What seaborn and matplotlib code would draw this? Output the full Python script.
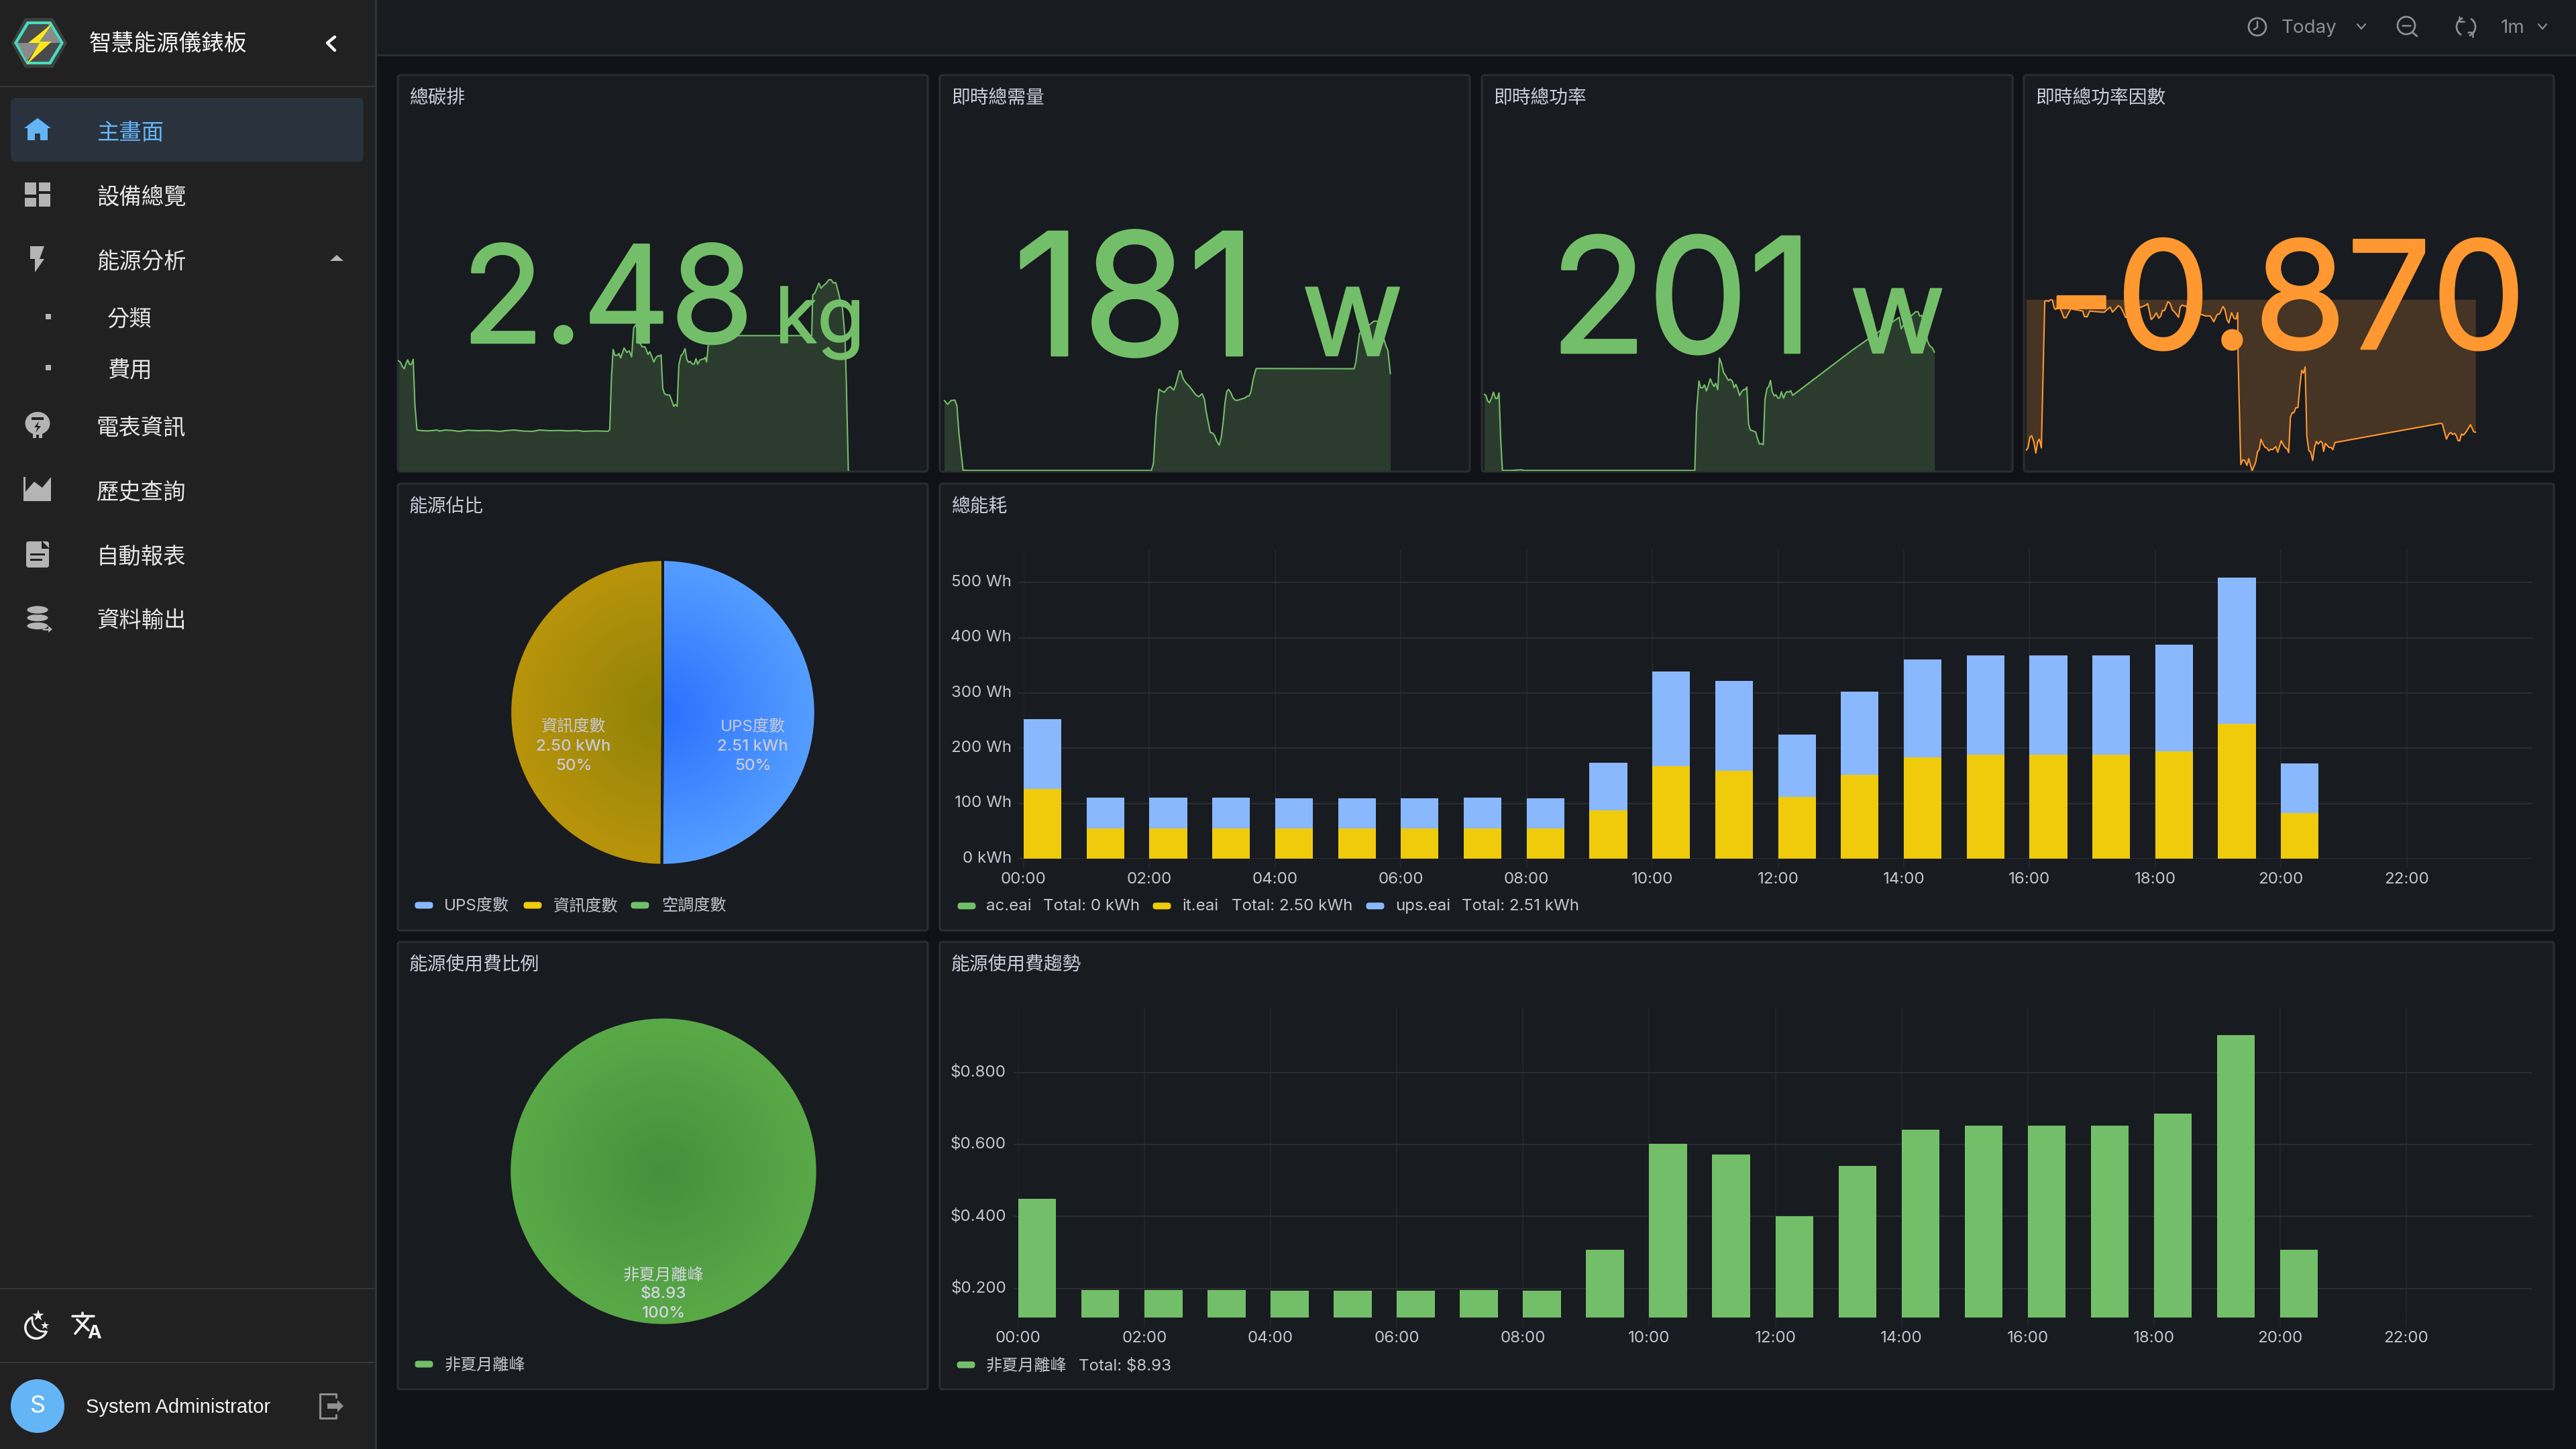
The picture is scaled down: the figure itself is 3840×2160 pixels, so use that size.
"""Smart energy dashboard screenshot rebuilt with seaborn."""
import matplotlib

matplotlib.use("Agg")

import matplotlib.patheffects as pe
import matplotlib.pyplot as plt
import numpy as np
import seaborn as sns
from matplotlib.patches import Arc, Circle, Ellipse, FancyBboxPatch, Polygon, Rectangle
from matplotlib.transforms import ScaledTranslation

# sparklines: sample position and height
CARBON_T = [8, 14, 20, 25, 30, 35, 40, 45, 51, 56, 62, 70, 90, 105, 120, 128, 145, 165, 185, 210, 240, 270, 305, 320,
            345, 375, 400, 420, 450, 480, 505, 530, 550, 585, 620, 625, 630, 635, 640, 648, 652, 657, 667, 675, 682,
            689, 695, 702, 715, 720, 728, 737, 742, 747, 754, 760, 766, 770, 775, 780, 785, 792, 800, 806, 812, 817,
            822, 827, 833, 838, 845, 850, 855, 860, 866, 872, 877, 882, 888, 895, 900, 904, 908, 913, 918, 1000, 1215,
            1218, 1224, 1230, 1236, 1242, 1250, 1258, 1265, 1272, 1278, 1285, 1292, 1298, 1305, 1312, 1316, 1322]
CARBON_V = [493, 485, 465, 457, 480, 497, 477, 475, 499, 295, 183, 181, 179, 180, 183, 178, 183, 181, 177, 182, 180, 181,
            177, 180, 183, 178, 177, 183, 180, 181, 179, 181, 177, 179, 177, 185, 415, 543, 517, 517, 525, 505, 550, 530,
            537, 510, 640, 655, 567, 555, 555, 521, 533, 515, 487, 507, 515, 513, 519, 370, 345, 340, 339, 315, 289, 297,
            289, 475, 515, 522, 547, 500, 485, 490, 478, 478, 502, 477, 495, 500, 500, 508, 487, 565, 605, 605, 605, 787,
            795, 817, 840, 817, 830, 840, 855, 855, 840, 843, 805, 765, 725, 605, 405, 0]

DEMAND_T = [15, 25, 35, 46, 52, 58, 70, 90, 620, 626, 634, 642, 650, 658, 667, 675, 685, 690, 698, 702, 706, 712, 720,
            730, 740, 750, 758, 768, 775, 780, 787, 792, 798, 804, 812, 818, 824, 830, 835, 840, 845, 852, 858, 865, 872,
            880, 888, 895, 900, 905, 910, 918, 926, 1212, 1217, 1222, 1228, 1235, 1250, 1262, 1270, 1278, 1285, 1292,
            1298, 1305, 1311, 1318]
DEMAND_V = [315, 298, 315, 317, 290, 165, 3, 2, 2, 35, 245, 365, 357, 352, 370, 377, 362, 380, 425, 447, 447, 415, 395,
            380, 360, 340, 332, 345, 320, 265, 210, 172, 170, 160, 130, 115, 150, 225, 305, 355, 365, 350, 327, 316, 316,
            320, 324, 328, 335, 335, 350, 415, 458, 457, 485, 545, 615, 625, 645, 660, 670, 670, 665, 635, 595, 560, 537,
            435]

POWER_T = [25, 30, 35, 40, 46, 52, 58, 63, 68, 73, 78, 100, 135, 140, 300, 640, 645, 652, 657, 663, 668, 674, 680, 685,
           692, 696, 701, 707, 712, 718, 724, 730, 738, 744, 750, 755, 760, 765, 771, 777, 783, 788, 792, 797, 802, 808,
           818, 823, 829, 835, 840, 845, 851, 856, 861, 866, 872, 877, 883, 888, 893, 899, 905, 910, 915, 920, 926, 1100,
           1175, 1212, 1237, 1243, 1255, 1270, 1285, 1292, 1297, 1303, 1312, 1320, 1326, 1334, 1340]
POWER_V = [343, 337, 313, 305, 325, 352, 324, 324, 349, 145, 2, 2, 5, 2, 2, 2, 265, 402, 372, 372, 385, 358, 385, 412,
           388, 378, 392, 363, 505, 480, 440, 427, 405, 410, 400, 372, 387, 368, 337, 355, 364, 364, 375, 210, 183, 180,
           174, 145, 120, 122, 117, 320, 370, 377, 405, 355, 335, 341, 325, 327, 354, 325, 348, 355, 352, 359, 338, 540,
           620, 660, 687, 635, 670, 690, 712, 712, 693, 695, 635, 580, 560, 550, 531]

PF_T = [40, 45, 51, 56, 62, 68, 73, 78, 84, 94, 100, 105, 110, 116, 122, 126, 132, 137, 142, 150, 156, 163, 170, 205,
        210, 218, 225, 262, 268, 275, 285, 292, 300, 309, 315, 322, 330, 336, 345, 388, 395, 405, 412, 420, 427, 433,
        438, 444, 454, 460, 467, 475, 485, 490, 496, 502, 508, 514, 520, 565, 578, 588, 598, 605, 615, 620, 627, 632,
        640, 647, 653, 658, 659, 667, 673, 678, 685, 690, 700, 710, 716, 721, 726, 732, 738, 743, 749, 754, 760, 769,
        775, 785, 792, 798, 802, 807, 812, 817, 822, 828, 834, 840, 845, 850, 855, 860, 866, 871, 877, 883, 888, 893,
        900, 905, 909, 914, 920, 925, 931, 936, 942, 1252, 1256, 1268, 1275, 1281, 1286, 1292, 1297, 1302, 1307, 1312,
        1318, 1328, 1338, 1348, 1353]
PF_V = [93, 103, 153, 157, 130, 80, 130, 142, 103, 760, 761, 758, 765, 765, 727, 722, 735, 735, 717, 685, 685, 705, 725,
        715, 690, 689, 715, 710, 710, 720, 733, 710, 723, 739, 733, 715, 687, 687, 715, 740, 748, 677, 687, 707, 683,
        692, 718, 717, 757, 750, 720, 708, 687, 733, 742, 737, 737, 707, 715, 693, 693, 667, 700, 702, 735, 723, 675,
        662, 708, 683, 679, 708, 505, 28, 50, 47, 25, 55, 0, 37, 87, 95, 142, 120, 105, 103, 90, 97, 95, 109, 83, 135,
        115, 102, 100, 82, 240, 260, 260, 283, 283, 385, 450, 437, 465, 155, 90, 85, 47, 110, 132, 120, 133, 127, 87,
        123, 113, 105, 105, 95, 127, 213, 210, 142, 165, 172, 163, 168, 157, 135, 135, 165, 160, 180, 207, 175, 173]

# hourly bars
HOURS = list(range(21))
IT_WH = [126, 55, 55, 55, 55, 55, 55, 55, 55, 87, 168, 159, 112, 152, 184, 188, 188, 188, 194, 244, 82]
UPS_WH = [127, 55, 55, 55, 54, 54, 54, 55, 54, 87, 171, 163, 113, 151, 177, 180, 180, 180, 193, 265, 91]
COST = [0.45, 0.195, 0.195, 0.195, 0.194, 0.194, 0.194, 0.195, 0.194, 0.308, 0.602, 0.572, 0.40, 0.54, 0.642, 0.652,
        0.652, 0.652, 0.687, 0.905, 0.307]
TIME_TICKS = list(range(0, 24, 2))
TIME_LABELS = [f"{h:02d}:00" for h in TIME_TICKS]
WH_TICKS = [0, 100, 200, 300, 400, 500]
WH_LABELS = ["0 kWh", "100 Wh", "200 Wh", "300 Wh", "400 Wh", "500 Wh"]
COST_TICKS = [0.2, 0.4, 0.6, 0.8]
COST_LABELS = ["$0.200", "$0.400", "$0.600", "$0.800"]

# pies
ENERGY_SHARE = [2.51, 2.50, 0]
COST_SHARE = [8.93]

MENU_ITEMS = ["設備總覽", "能源分析", "電表資訊", "歷史查詢", "自動報表", "資料輸出"]
MENU_Y = [295, 391, 639, 735, 831, 926]

PAGE = "#111217"
PANEL = "#181b1f"
SIDE = "#212121"
BORDER = "#2a2d32"
TEXT = "#ccccdc"
AXIS_TEXT = "#c4c5d0"
GREEN = "#73bf69"
GREEN_FILL = "#2b3c2e"
ORANGE = "#ff9830"
ORANGE_FILL = "#463424"
YELLOW = "#efcb0c"
BLUE = "#8ab8ff"
GRID_H = "#2b2e33"
GRID_V = "#23262b"
ICON = "#b4b4b4"
MUTED = "#8e8e98"

sns.set_theme(style="dark", rc={"axes.facecolor": PANEL, "figure.facecolor": PAGE, "savefig.facecolor": PAGE})
plt.rcParams["font.family"] = ["Inter", "Noto Sans CJK TC", "DejaVu Sans"]

W, H = 3840, 2160
fig = plt.figure(figsize=(W / 200, H / 200), dpi=200)


def layer(z):
    ax = fig.add_axes([0, 0, 1, 1], zorder=z)
    ax.set_xlim(0, W)
    ax.set_ylim(H, 0)
    ax.axis("off")
    ax.patch.set_alpha(0)
    return ax


def chart_axes(x0, y0, x1, y1):
    ax = fig.add_axes([x0 / W, 1 - y1 / H, (x1 - x0) / W, (y1 - y0) / H], zorder=1)
    ax.patch.set_alpha(0)
    return ax


back = layer(0)
front = layer(2)


def rect(ax, x0, y0, x1, y1, color):
    ax.add_patch(Rectangle((x0, y0), x1 - x0, y1 - y0, fc=color, ec="none"))


def panel(x0, y0, x1, y1, title):
    back.add_patch(FancyBboxPatch((x0 + 3, y0 + 3), x1 - x0 - 6, y1 - y0 - 6, boxstyle="round,pad=3,rounding_size=4",
                                  fc=PANEL, ec=BORDER, lw=1.1))
    front.text(x0 + 17, y0 + 35, title, color=TEXT, fontsize=10, va="center")


def poly(points, color, z=3):
    front.add_patch(Polygon(points, closed=True, fc=color, ec="none", zorder=z))


def stroke(points, color, lw=1.2):
    xs, ys = zip(*points)
    front.plot(xs, ys, color=color, lw=lw, solid_capstyle="round", solid_joinstyle="round")


def big_text(x, y, s, color, size, thicken=1.0, ha="left"):
    front.text(x, y, s, color=color, fontsize=size, ha=ha, va="baseline",
               path_effects=[pe.withStroke(linewidth=thicken, foreground=color)])


def sparkline(rect_px, xlim, t, v, color, fill, fill_to=0):
    ax = chart_axes(*rect_px)
    ax.fill_between(t, v, fill_to, color=fill, lw=0)
    sns.lineplot(x=t, y=v, estimator=None, sort=False, color=color, lw=0.75, ax=ax)
    ax.set_xlim(*xlim)
    ax.set_ylim(0, (rect_px[3] - rect_px[1]) * 3)
    ax.set_axis_off()


def legend_mark(x, y, color):
    front.add_patch(FancyBboxPatch((x + 5, y), 18, 1, boxstyle="round,pad=4.5,rounding_size=4.5", fc=color, ec="none"))


def legend_text(x, y, s):
    front.text(x, y, s, color=AXIS_TEXT, fontsize=8.7, va="center")


def pie(cx, cy, r, values, gradients):
    ax = chart_axes(cx - r, cy - r, cx + r, cy + r)
    lw = 1.4 if len(values) > 1 else 0
    wedges, _ = ax.pie(values, startangle=90, counterclock=False, radius=1,
                       wedgeprops=dict(edgecolor=PANEL, linewidth=lw))
    yy, xx = np.mgrid[-1:1:400j, -1:1:400j]
    dist = np.clip(np.hypot(xx, yy), 0, 1)[..., None]
    for wedge, (inner, outer) in zip(wedges, gradients):
        c0 = np.array(matplotlib.colors.to_rgb(inner))
        c1 = np.array(matplotlib.colors.to_rgb(outer))
        img = ax.imshow(c0 + (c1 - c0) * dist, extent=(-1, 1, -1, 1), zorder=0.5)
        img.set_clip_path(wedge)
        wedge.set_facecolor("none")
        wedge.set_zorder(2)
    ax.set_xlim(-1.01, 1.01)
    ax.set_ylim(-1.01, 1.01)
    ax.set_aspect("equal")
    ax.set_axis_off()


def style_bars(ax, yticks, ylabels):
    ax.set_xlim(0, 24)
    ax.set_xticks(TIME_TICKS, TIME_LABELS)
    ax.set_yticks(yticks, ylabels)
    ax.set_xlabel("")
    ax.set_ylabel("")
    ax.grid(True, axis="y", color=GRID_H, lw=0.7)
    ax.grid(True, axis="x", color=GRID_V, lw=0.7)
    ax.set_axisbelow(True)
    ax.tick_params(axis="x", length=5, width=0.6, color=GRID_V, pad=2.2, labelsize=8.7, labelcolor=AXIS_TEXT, bottom=True)
    ax.tick_params(axis="y", length=3, width=0.6, color=GRID_H, pad=3.5, labelsize=8.7, labelcolor=AXIS_TEXT, left=True)
    sns.despine(ax=ax, left=True, bottom=True)
    # the y labels sit a little above their grid lines
    nudge = ScaledTranslation(0, 3 / 200, fig.dpi_scale_trans)
    for lab in ax.get_yticklabels():
        lab.set_transform(lab.get_transform() + nudge)


# page chrome
rect(back, 0, 0, W, H, PAGE)
rect(back, 0, 0, 559, H, SIDE)
rect(back, 559, 0, 562, H, "#333436")
rect(back, 562, 0, W, 81, PANEL)
rect(back, 562, 81, W, 84, BORDER)
rect(back, 0, 128, 559, 130, "#363636")
rect(back, 0, 1920, 559, 1922, "#363636")
rect(back, 0, 2030, 559, 2032, "#363636")
back.add_patch(FancyBboxPatch((22, 152), 514, 83, boxstyle="round,pad=6,rounding_size=8", fc="#29323d", ec="none"))

# logo
poly([(17, 64), (37, 27), (79, 27), (100, 64), (79, 101), (37, 101)], "#3d403e")
poly([(21, 64), (40, 32), (76, 32), (95, 64), (76, 96), (40, 96)], "#45dcc0")
poly([(26, 64), (43, 36), (73, 36), (90, 64), (73, 92), (43, 92)], "#4a4a4a")
poly([(26, 64), (60, 64), (40, 92)], "#8a8a8a", 3.1)
poly([(73, 36), (90, 64), (58, 64)], "#8a8a8a", 3.1)
poly([(78, 35), (42, 64), (59, 64), (40, 96), (77, 62), (59, 62)], "#ffe81a", 3.2)

front.text(133, 66, "智慧能源儀錶板", color="#f5f5f5", fontsize=12.1, weight="medium", va="center")
stroke([(499, 55), (488, 64), (499, 75)], "#f5f5f5", 1.6)

# menu
front.text(144, 199, "主畫面", color="#64b5f6", fontsize=12, va="center")
for label, y in zip(MENU_ITEMS, MENU_Y):
    front.text(144, y, label, color="#e6e6e6", fontsize=12, va="center")
front.text(160, 477, "分類", color="#e6e6e6", fontsize=12, va="center")
front.text(160, 553, "費用", color="#e6e6e6", fontsize=12, va="center")

poly([(36, 191), (56, 176), (76, 191), (71, 191), (71, 209), (60, 209), (60, 199), (52, 199), (52, 209), (41, 209),
      (41, 191)], "#64b5f6")
for x0, y0, x1, y1 in [(37, 272, 54, 290), (37, 295, 54, 308), (58, 272, 75, 285), (58, 289, 75, 308)]:
    rect(front, x0, y0, x1, y1, ICON)
poly([(45, 367), (66, 367), (59, 386), (66, 386), (52, 406), (52, 386), (45, 386)], ICON)
poly([(492, 389), (502, 380), (512, 389)], ICON)
rect(front, 68, 468, 76, 476, ICON)
rect(front, 68, 544, 76, 552, ICON)
# meter
front.add_patch(Ellipse((56, 631), 37, 34, fc=ICON, ec="none"))
rect(front, 49, 645, 54, 653, ICON)
rect(front, 58, 645, 63, 653, ICON)
rect(front, 47, 622, 65, 626, SIDE)
poly([(58, 628), (51, 637), (56, 637), (53, 645), (61, 635), (56, 635)], SIDE, 3.5)
# history
poly([(35, 711), (38, 711), (38, 733), (51, 718), (63, 727), (76, 711), (76, 747), (35, 747)], ICON)
stroke([(42, 743), (52, 727), (63, 735), (76, 720)], SIDE, 1.3)
# report
front.add_patch(FancyBboxPatch((42, 810), 28, 33, boxstyle="round,pad=3,rounding_size=4", fc=ICON, ec="none"))
poly([(62, 806), (74, 818), (62, 818)], SIDE)
rect(front, 45, 825, 67, 828, SIDE)
rect(front, 45, 833, 63, 836, SIDE)
# export
for y in (933, 921):
    front.add_patch(Ellipse((56, y), 33, 12, fc=ICON, ec=SIDE, lw=0.6))
front.add_patch(Ellipse((56, 909), 33, 13, fc=ICON, ec=SIDE, lw=0.6))
stroke([(64, 938), (74, 938)], ICON, 0.9)
poly([(72, 933), (78, 938), (72, 943)], ICON)

# bottom of the sidebar
front.add_patch(Circle((54, 1979), 18, fc="#f0f0f0", ec="none", zorder=3))
front.add_patch(Circle((54, 1979), 14.5, fc=SIDE, ec="none", zorder=3.05))
front.add_patch(Circle((65, 1968), 17, fc=SIDE, ec="none", zorder=3.1))
front.add_patch(Arc((65, 1968), 34, 34, theta1=75, theta2=195, ec="#f0f0f0", lw=1, zorder=3.2))
front.scatter([57, 67], [1961, 1976], marker="*", s=[42, 22], color="#f0f0f0", lw=0, zorder=3.3)
stroke([(108, 1962), (140, 1962)], "#f0f0f0", 1.3)
stroke([(123, 1957), (123, 1962)], "#f0f0f0", 1.3)
stroke([(115, 1967), (132, 1983)], "#f0f0f0", 1.3)
stroke([(131, 1965), (112, 1988)], "#f0f0f0", 1.3)
front.text(141, 1995, "A", color="#f0f0f0", fontsize=10, weight="bold", ha="center", va="baseline")
front.add_patch(Ellipse((56, 2096), 80, 80, fc="#64b5f6", ec="none", zorder=3))
front.text(56, 2097, "S", color="white", fontsize=13, ha="center", va="center", zorder=4)
front.text(128, 2098, "System Administrator", color="#f5f5f5", fontsize=10.5, family="Liberation Sans", va="center")
stroke([(501, 2083), (501, 2078), (477, 2078), (477, 2114), (501, 2114), (501, 2109)], "#8f8f8f", 1.1)
rect(front, 488, 2092, 503, 2100, "#8f8f8f")
poly([(503, 2087), (512, 2096), (503, 2105)], "#8f8f8f")

# top bar
front.add_patch(Circle((3365, 40), 13, fc="none", ec=MUTED, lw=1))
stroke([(3365, 32), (3365, 41), (3360, 44)], MUTED, 0.9)
front.text(3401, 42, "Today", color=MUTED, fontsize=10, va="center")
stroke([(3514, 36), (3520, 43), (3526, 36)], MUTED, 0.8)
front.add_patch(Circle((3587, 38), 13, fc="none", ec=MUTED, lw=1))
stroke([(3581, 38), (3593, 38)], MUTED, 0.9)
stroke([(3596, 48), (3603, 54)], MUTED, 1)
front.add_patch(Arc((3676, 40), 28, 28, theta1=300, theta2=70, ec=MUTED, lw=1))
front.add_patch(Arc((3676, 40), 28, 28, theta1=120, theta2=250, ec=MUTED, lw=1))
stroke([(3666, 25), (3666, 32), (3673, 32)], MUTED, 0.9)
stroke([(3686, 55), (3686, 48), (3679, 48)], MUTED, 0.9)
front.text(3728, 42, "1m", color=MUTED, fontsize=10, va="center")
stroke([(3784, 36), (3790, 43), (3796, 36)], MUTED, 0.8)

# stat panels
panel(593, 112, 1383, 703, "總碳排")
panel(1401, 112, 2191, 703, "即時總需量")
panel(2209, 112, 3000, 703, "即時總功率")
panel(3017, 112, 3807, 703, "即時總功率因數")

sparkline((593, 112, 1383, 702), (6, 1554), CARBON_T, CARBON_V, GREEN, GREEN_FILL)
sparkline((1401, 112, 2191, 702), (2, 1550), DEMAND_T, DEMAND_V, GREEN, GREEN_FILL)
sparkline((2209, 112, 3000, 702), (18, 1568), POWER_T, POWER_V, GREEN, GREEN_FILL)
sparkline((3017, 112, 3807, 702), (33, 1582), PF_T, PF_V, ORANGE, ORANGE_FILL, fill_to=767)

big_text(688, 511, "2.48", GREEN, 72.5)
big_text(1155, 511, "kg", GREEN, 41.5, thicken=0.6)
big_text(1510, 530, "181", GREEN, 91.5)
big_text(1940, 530, "w", GREEN, 67, thicken=0.8)
big_text(2310, 526, "201", GREEN, 86)
big_text(2757, 526, "w", GREEN, 63, thicken=0.8)
big_text(3766, 520, "-0.870", ORANGE, 80.5, ha="right")

# energy share pie
panel(593, 721, 1383, 1387, "能源佔比")
pie(988, 1062, 230, ENERGY_SHARE, [("#2b70ff", "#559eff"), ("#8f8208", "#b9940b")])
for x, lines in [(1122, ["UPS度數", "2.51 kWh", "50%"]), (855, ["資訊度數", "2.50 kWh", "50%"])]:
    for y, s, wt in zip([1084, 1113, 1142], lines, ["normal", "medium", "medium"]):
        front.text(x, y, s, color="#c8c9d6", fontsize=8.7, weight=wt, ha="center", va="center")
for mx, tx, color, s in [(618, 662, BLUE, "UPS度數"), (780, 825, YELLOW, "資訊度數"), (940, 986, GREEN, "空調度數")]:
    legend_mark(mx, 1349, color)
    legend_text(tx, 1351, s)

# energy bars
panel(1401, 721, 3807, 1387, "總能耗")
ax_wh = chart_axes(1526, 819, 3775, 1280)
bar_x = np.array(HOURS) + 0.3
sns.barplot(x=bar_x, y=np.array(IT_WH) + np.array(UPS_WH), color=BLUE, saturation=1, width=0.6, native_scale=True,
            linewidth=0, errorbar=None, ax=ax_wh)
sns.barplot(x=bar_x, y=IT_WH, color=YELLOW, saturation=1, width=0.6, native_scale=True, linewidth=0, errorbar=None,
            ax=ax_wh)
style_bars(ax_wh, WH_TICKS, WH_LABELS)
ax_wh.set_ylim(0, 560)
for mx, tx, tt, color, name, total in [(1427, 1470, 1555, GREEN, "ac.eai", "Total: 0 kWh"),
                                       (1718, 1763, 1836, YELLOW, "it.eai", "Total: 2.50 kWh"),
                                       (2036, 2080, 2179, BLUE, "ups.eai", "Total: 2.51 kWh")]:
    legend_mark(mx, 1350, color)
    legend_text(tx, 1351, name)
    legend_text(tt, 1351, total)

# cost pie
panel(593, 1404, 1383, 2071, "能源使用費比例")
pie(989, 1746, 230, COST_SHARE, [("#44903c", "#5aa948")])
for y, s, wt in zip([1901, 1929, 1958], ["非夏月離峰", "$8.93", "100%"], ["normal", "medium", "medium"]):
    front.text(989, y, s, color="#d4d5de", fontsize=8.7, weight=wt, ha="center", va="center")
legend_mark(618, 2033, GREEN)
legend_text(663, 2035, "非夏月離峰")

# cost bars
panel(1401, 1404, 3807, 2071, "能源使用費趨勢")
ax_cost = chart_axes(1518, 1502, 3775, 1964)
sns.barplot(x=bar_x, y=COST, color=GREEN, saturation=1, width=0.6, native_scale=True, linewidth=0, errorbar=None,
            ax=ax_cost)
style_bars(ax_cost, COST_TICKS, COST_LABELS)
ax_cost.set_ylim(0.119, 0.981)
legend_mark(1426, 2034, GREEN)
legend_text(1470, 2036, "非夏月離峰")
legend_text(1608, 2036, "Total: $8.93")

fig.savefig("out.png", dpi=200)
plt.close(fig)
